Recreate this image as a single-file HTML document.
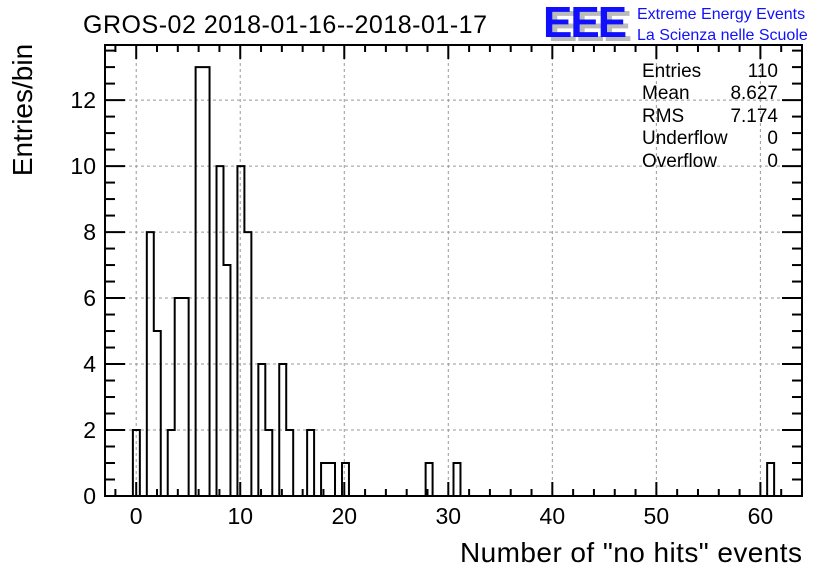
<!DOCTYPE html>
<html><head><meta charset="utf-8"><style>
body{margin:0;background:#fff;}
svg{display:block;font-family:"Liberation Sans",sans-serif;}
</style></head><body>
<svg id="chart" width="836" height="572">
<text x="285" y="33" font-size="25" text-anchor="middle" textLength="404">GROS-02 2018-01-16--2018-01-17</text>
<g>
<text x="548" y="41" font-size="44" font-weight="bold" fill="#bbb" letter-spacing="-2">EEE</text>
<text x="543" y="37" font-size="44" font-weight="bold" fill="#1010ff" letter-spacing="-2">EEE</text>
<text x="637" y="19" font-size="16" fill="#1010ff">Extreme Energy Events</text>
<text x="637" y="40" font-size="16" fill="#1010ff">La Scienza nelle Scuole</text>
</g>
<text transform="translate(32,110) rotate(-90)" font-size="28" text-anchor="middle">Entries/bin</text>
<text x="802" y="562" font-size="28" text-anchor="end" textLength="342">Number of "no hits" events</text>
<g id="grid"></g><g id="bars"></g><g id="axes"></g>
<g font-size="19">
<text x="642" y="77">Entries</text><text x="778" y="77" text-anchor="end">110</text>
<text x="642" y="99">Mean</text><text x="778" y="99" text-anchor="end">8.627</text>
<text x="642" y="122">RMS</text><text x="778" y="122" text-anchor="end">7.174</text>
<text x="642" y="144">Underflow</text><text x="778" y="144" text-anchor="end">0</text>
<text x="642" y="167">Overflow</text><text x="778" y="167" text-anchor="end">0</text>
</g>
</svg>
<script>
const binIndex=[4,6,7,9,10,11,13,14,16,17,19,20,22,23,25,26,29,31,32,34,46,50,95];
const binCount=[2,8,5,2,6,6,13,13,10,7,10,8,4,2,4,2,2,1,1,1,1,1,1];
const xTicks=[0,10,20,30,40,50,60];
const yTicks=[0,2,4,6,8,10,12];
const NBINS=100, XMIN=-3, XMAX=64, YMAX=13.67;
const L=105,R=802,T=45,B=496;
const sx=v=>L+(v-XMIN)/(XMAX-XMIN)*(R-L);
const sy=v=>B-v/YMAX*(B-T);
const NS='http://www.w3.org/2000/svg';
function mk(t,a,p){const e=document.createElementNS(NS,t);for(const k in a)e.setAttribute(k,a[k]);p.appendChild(e);return e;}
const grid=document.getElementById('grid'),bars=document.getElementById('bars'),axes=document.getElementById('axes');
xTicks.forEach(v=>{const l=mk('line',{x1:sx(v),x2:sx(v),y1:T,y2:B,stroke:'#999','stroke-dasharray':'3,3'},grid);
});
yTicks.forEach(v=>{if(v===0)return;const l=mk('line',{x1:L,x2:R,y1:sy(v),y2:sy(v),stroke:'#999','stroke-dasharray':'3,3'},grid);
});
const bw=(XMAX-XMIN)/NBINS;
let counts=new Array(NBINS+1).fill(0);binIndex.forEach((k,i)=>counts[k]=binCount[i]);
let d='';
for(let k=0;k<NBINS;k++){
  const prev=k>0?counts[k-1]:0;
  if(counts[k]!==prev) d+=`M${sx(XMIN+k*bw)},${sy(prev)}L${sx(XMIN+k*bw)},${sy(counts[k])}`;
  if(counts[k]>0) d+=`M${sx(XMIN+k*bw)},${sy(counts[k])}L${sx(XMIN+(k+1)*bw)},${sy(counts[k])}`;
}
if(counts[NBINS-1]>0) d+=`M${sx(XMAX)},${sy(counts[NBINS-1])}L${sx(XMAX)},${B}`;
const h=mk('path',{d:d,fill:'none',stroke:'#000','stroke-width':2,'stroke-linecap':'square'},bars);

const fr=mk('rect',{x:L,y:T,width:R-L,height:B-T,fill:'none',stroke:'#000','stroke-width':2},axes);

for(let v=-2;v<=64;v+=2){const maj=v%10===0,len=maj?14:7;
  mk('line',{x1:sx(v),x2:sx(v),y1:B,y2:B-len,stroke:'#000','stroke-width':2},axes);
  mk('line',{x1:sx(v),x2:sx(v),y1:T,y2:T+len,stroke:'#000','stroke-width':2},axes);}
for(let v=0;v<=13.5;v+=0.5){const maj=v%2===0,len=maj?20:10;
  mk('line',{x1:L,x2:L+len,y1:sy(v),y2:sy(v),stroke:'#000','stroke-width':2},axes);
  mk('line',{x1:R,x2:R-len,y1:sy(v),y2:sy(v),stroke:'#000','stroke-width':2},axes);}
xTicks.forEach(v=>{const t=mk('text',{x:sx(v),y:B+28,'font-size':23,'text-anchor':'middle'},axes);t.textContent=v;
});
yTicks.forEach(v=>{const t=mk('text',{x:L-9,y:sy(v)+8,'font-size':23,'text-anchor':'end'},axes);t.textContent=v;
});
</script>
</body></html>
